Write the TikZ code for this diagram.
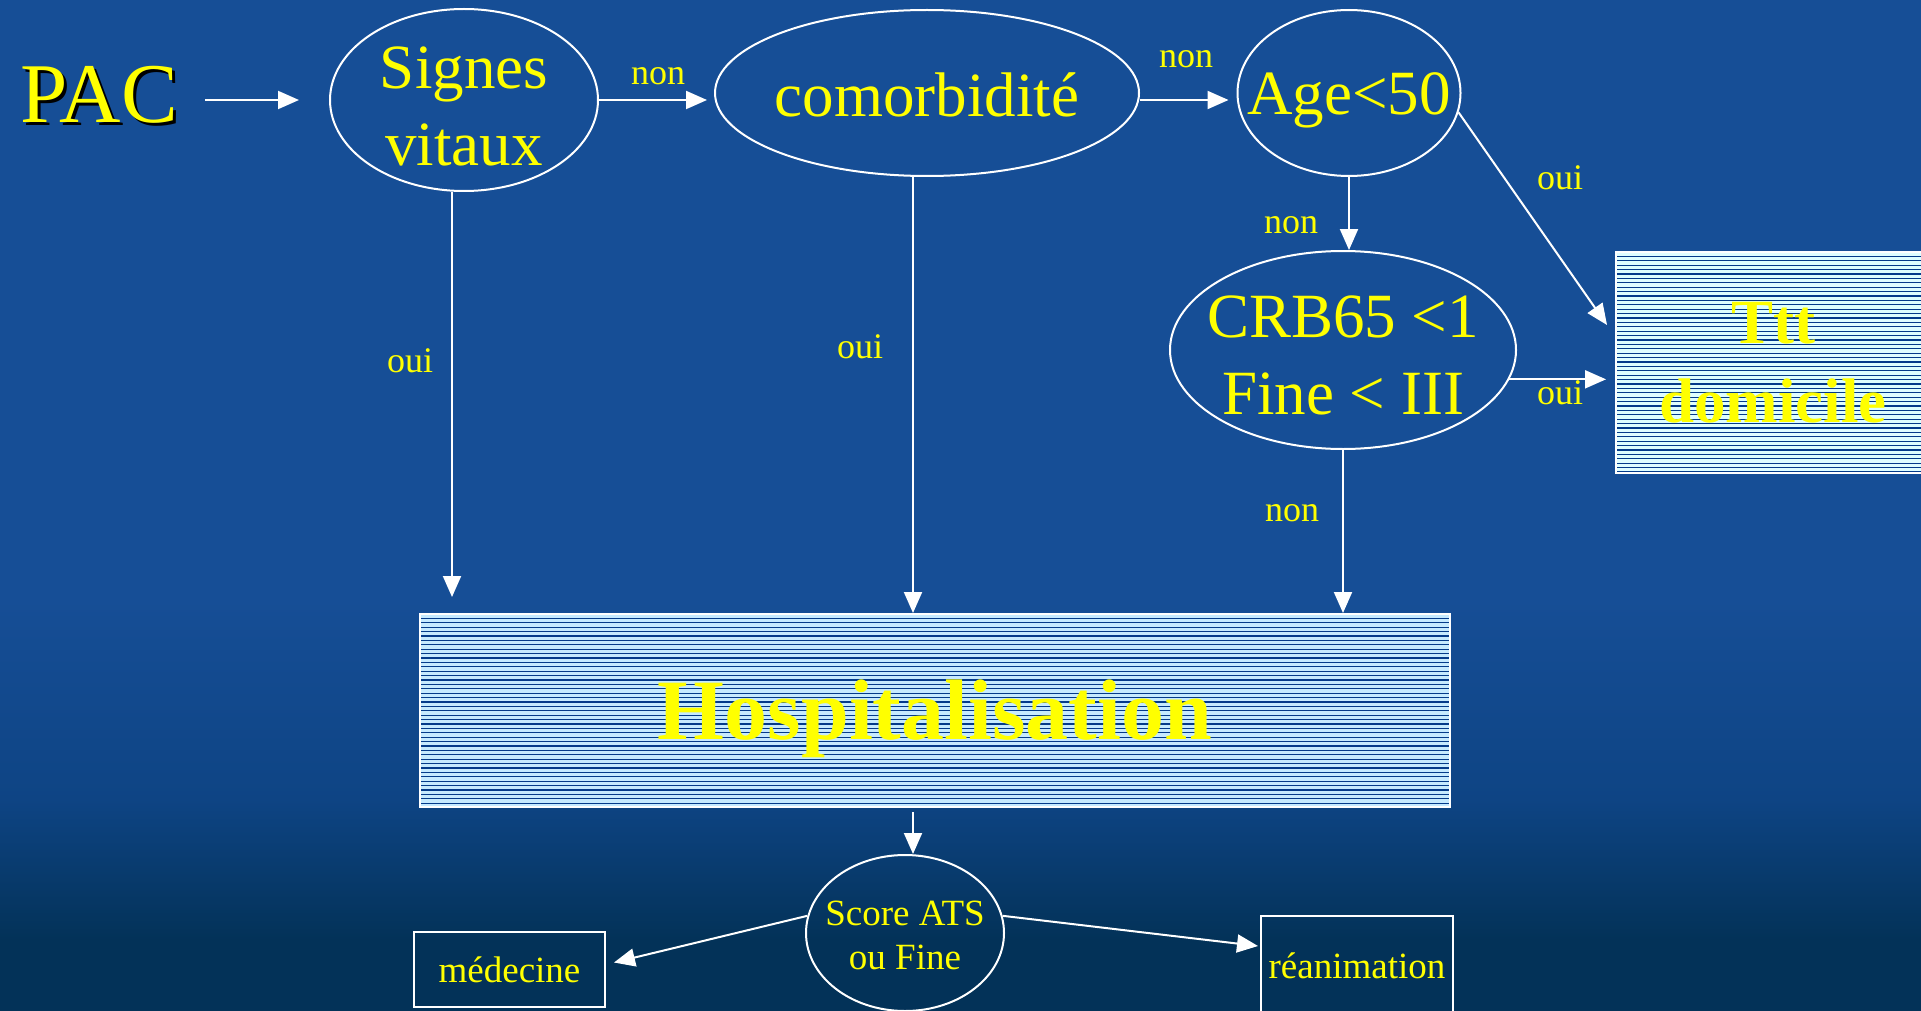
\documentclass[tikz,border=0pt]{standalone}
\usepackage{fontspec}
\setmainfont{Liberation Serif}
\usetikzlibrary{shapes.geometric,arrows.meta,calc}
\definecolor{bgtop}{RGB}{22,78,150}
\definecolor{bgmid}{RGB}{14,68,132}
\definecolor{bgbot}{RGB}{3,50,88}
\definecolor{ylw}{RGB}{255,255,0}
\definecolor{hatch}{RGB}{4,58,138}
\definecolor{hospfill}{RGB}{198,234,255}
\definecolor{tttfill}{RGB}{222,254,255}
\newcommand\fPAC{\fontsize{85}{100}\selectfont}
\newcommand\fBig{\fontsize{63}{77}\selectfont}
\newcommand\fHosp{\fontsize{86}{100}\selectfont\bfseries}
\newcommand\fSmall{\fontsize{37}{44}\selectfont}
\newcommand\fLab{\fontsize{36}{40}\selectfont}
\begin{document}
\begin{tikzpicture}[x=1pt,y=-1pt,
  ell/.style={ellipse,draw=white,line width=2pt,inner sep=0pt},
  inlab/.style={text=ylw,align=center,inner sep=0pt},
  lab/.style={text=ylw,font=\fLab,inner sep=0pt},
  arr/.style={draw=white,line width=2pt,-{Triangle[length=21pt,width=18pt]}},
  hatched/.style={draw=white,line width=2pt,fill=#1,inner sep=0pt,text=ylw,align=center,
    path picture={\foreach \k in {1,...,60}{
      \draw[line width=1.1pt,hatch] ([yshift=-\k*4.4pt]path picture bounding box.north west) -- ([yshift=-\k*4.4pt]path picture bounding box.north east);}}},
  plainbox/.style={draw=white,line width=2pt,inner sep=0pt,text=ylw,font=\fSmall}
]
\useasboundingbox (0,0) rectangle (1921,1011);
\fill[bgtop] (0,0) rectangle (1921,600);
\shade[top color=bgtop,bottom color=bgmid] (0,599) rectangle (1921,800);
\shade[top color=bgmid,bottom color=bgbot] (0,799) rectangle (1921,940);
\fill[bgbot] (0,939) rectangle (1921,1011);

% title
\node[text=black,font=\fPAC,inner sep=0pt] (pacsh) at (102,98) {PAC};
\node[text=ylw,font=\fPAC,inner sep=0pt] (pac) at (99,95) {PAC};

% ellipses
\node[ell,minimum width=268pt,minimum height=182pt,
  label={[inlab,font=\fBig,yshift=-6pt]center:Signes\\vitaux}] (sig) at (464,100) {};
\node[ell,minimum width=424pt,minimum height=166pt,
  label={[inlab,font=\fBig,yshift=-2pt]center:comorbidité}] (com) at (927,93) {};
\node[ell,minimum width=223pt,minimum height=166pt,
  label={[inlab,font=\fBig,yshift=-7pt]center:Age<50}] (age) at (1349,93) {};
\node[ell,minimum width=346pt,minimum height=198pt,
  label={[inlab,font=\fBig,yshift=-5pt]center:CRB65 <1\\Fine < III}] (crb) at (1343,350) {};
\node[ell,minimum width=198pt,minimum height=156pt,
  label={[inlab,font=\fSmall,yshift=-2pt]center:Score ATS\\ou Fine}] (score) at (905,933) {};

% boxes
\node[hatched=hospfill,minimum width=1030pt,minimum height=193pt,font=\fHosp,
  text height=68pt,text depth=10pt] (hosp) at (935,710.5) {Hospitalisation};
\node[hatched=tttfill,minimum width=314pt,minimum height=221pt,font={\fontsize{63}{79}\selectfont\bfseries},
  yshift=0pt] (ttt) at (1773,362.5) {Ttt\\domicile};
\node[plainbox,minimum width=191pt,minimum height=75pt] (med) at (509.5,969.5) {médecine};
\node[plainbox,minimum width=192pt,text height=62pt,text depth=52pt,anchor=base] (rea) at (1357,978) {réanimation};

% connectors
\draw[arr,shorten <=27pt,shorten >=30pt] (pac.east |- sig.west) -- (sig.west);
\draw[arr,shorten >=7pt] (sig.east) -- (sig.east -| com.west);
\draw[arr,shorten >=8pt] ([yshift=-7pt]com.east) -- ([yshift=-7pt]com.east -| age.west);
\draw[arr] (age.south) -- (age.south |- crb.north);
\coordinate (tttin) at (1607,325);
\draw[arr] (age.-10) -- (tttin);
\draw[arr,shorten >=9pt] (crb.-10) -- (crb.-10 -| ttt.west);
\draw[arr] (crb.south) -- (crb.south |- hosp.north);
\draw[arr,shorten >=16pt] ([xshift=-12pt]sig.south) -- ([xshift=-12pt]sig.south |- hosp.north);
\draw[arr] ([xshift=-14pt]com.south) -- ([xshift=-14pt]com.south |- hosp.north);
\draw[arr,shorten <=4pt] ([xshift=8pt]score.north |- hosp.south) -- ([xshift=8pt]score.north);
\draw[arr] (score.170) -- ($(med.east)+(8,-7)$);
\draw[arr] (score.10) -- ($(rea.north west)+(-2,31)$);

% labels
\node[lab] (l1) at (658,76) {non};
\node[lab] (l2) at (1186,59) {non};
\node[lab] (l3) at (1291,225) {non};
\node[lab] (l4) at (1560,178) {oui};
\node[lab] (l5) at (1560,393) {oui};
\node[lab] (l6) at (1292,513) {non};
\node[lab] (l7) at (410,361) {oui};
\node[lab] (l8) at (860,347) {oui};
\end{tikzpicture}
\end{document}
